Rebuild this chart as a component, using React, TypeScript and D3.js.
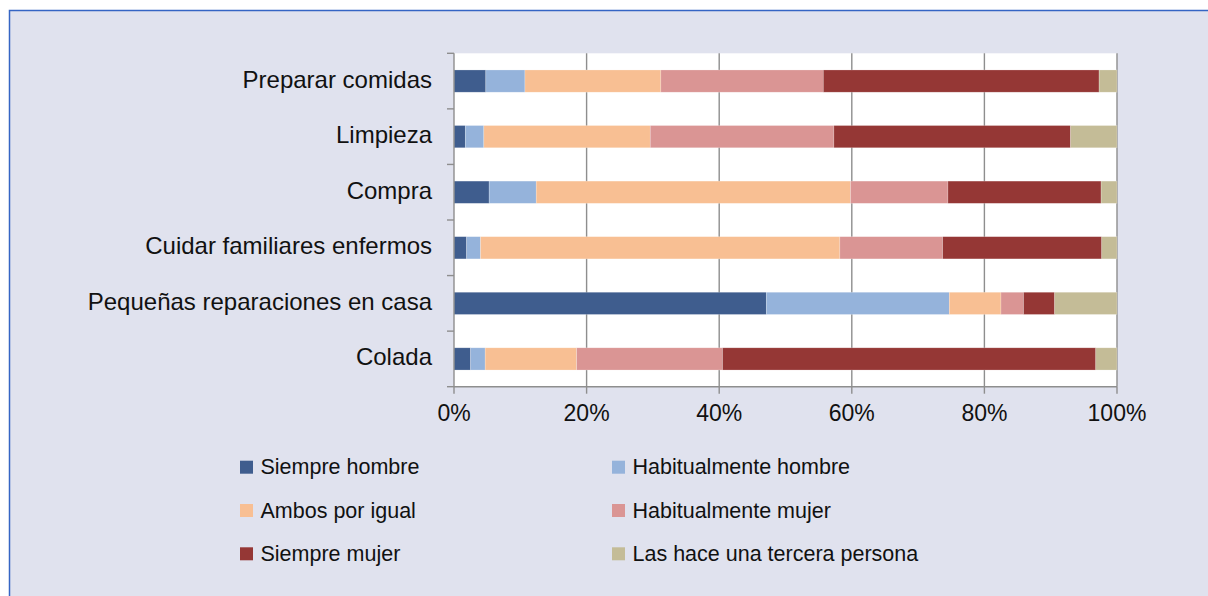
import React from "react";
import * as d3 from "d3";

const categories = [
  "Preparar comidas",
  "Limpieza",
  "Compra",
  "Cuidar familiares enfermos",
  "Pequeñas reparaciones en casa",
  "Colada",
];

const seriesNames = [
  "Siempre hombre",
  "Habitualmente hombre",
  "Ambos por igual",
  "Habitualmente mujer",
  "Siempre mujer",
  "Las hace una tercera persona",
];

const siempreHombre = [4.8, 1.7, 5.3, 1.9, 47.1, 2.5];
const habitualmenteHombre = [5.9, 2.8, 7.1, 2.1, 27.6, 2.2];
const ambosPorIgual = [20.5, 25.1, 47.4, 54.2, 7.8, 13.8];
const habitualmenteMujer = [24.5, 27.7, 14.7, 15.5, 3.4, 22.0];
const siempreMujer = [41.6, 35.7, 23.1, 24.0, 4.7, 56.3];
const terceraPersona = [2.7, 7.0, 2.4, 2.3, 9.4, 3.2];

const xTicks = [0, 20, 40, 60, 80, 100];

const colors = ["#3F5D8E", "#95B3DB", "#F8BF93", "#DA9594", "#953735", "#C4BC97"];

const seriesValues = [
  siempreHombre,
  habitualmenteHombre,
  ambosPorIgual,
  habitualmenteMujer,
  siempreMujer,
  terceraPersona,
];

export default function App() {
  const W = 1208;
  const H = 596;
  const left = 454;
  const right = 1117;
  const top = 53.3;
  const bottom = 386.7;

  const x = d3.scaleLinear().domain([0, 100]).range([left, right]);
  const y = d3
    .scaleBand<string>()
    .domain(categories)
    .range([top, bottom])
    .paddingInner(0.6)
    .paddingOuter(0.3);

  const rows = categories.map((c, i) => {
    const r: any = { cat: c };
    seriesNames.forEach((s, j) => (r[s] = seriesValues[j][i]));
    return r;
  });
  const stacked = d3.stack<any>().keys(seriesNames)(rows);

  const step = y.step();
  const catTicks = d3.range(categories.length + 1).map((i) => top + i * step);

  const font = "'Liberation Sans', Arial, Helvetica, sans-serif";
  const gridColor = "#8E8E8E";

  const legendPos = [
    { sx: 240, sy: 460.7 },
    { sx: 612, sy: 460.7 },
    { sx: 240, sy: 504 },
    { sx: 612, sy: 504 },
    { sx: 240, sy: 547.3 },
    { sx: 612, sy: 547.3 },
  ];

  return (
    <svg
      width={W}
      height={H}
      style={{ position: "absolute", left: 0, top: 0 }}
      fontFamily={font}
    >
      <rect x={0} y={0} width={W} height={H} fill="#ffffff" />
      <rect x={9.5} y={10.5} width={W + 20} height={H + 20} fill="#E0E2EE" stroke="#3565C4" strokeWidth={1.5} />
      <rect x={left} y={top} width={right - left} height={bottom - top} fill="#ffffff" />

      {xTicks.slice(1).map((t) => (
        <line key={t} x1={x(t)} x2={x(t)} y1={top} y2={bottom} stroke={gridColor} strokeWidth={1.4} />
      ))}

      {stacked.map((layer, j) => (
        <g key={layer.key} fill={colors[j]}>
          {layer.map((d: any, i: number) => (
            <rect
              key={i}
              x={x(d[0])}
              width={Math.max(0, x(d[1]) - x(d[0]))}
              y={y(categories[i])}
              height={y.bandwidth()}
              stroke="#ffffff"
              strokeOpacity={0.35}
              strokeWidth={0.6}
            />
          ))}
        </g>
      ))}

      <line x1={left} x2={left} y1={top} y2={bottom} stroke={gridColor} strokeWidth={1.4} />
      <line x1={left} x2={right} y1={bottom} y2={bottom} stroke={gridColor} strokeWidth={1.4} />
      {catTicks.map((t, i) => (
        <line key={i} x1={left - 7} x2={left} y1={t} y2={t} stroke={gridColor} strokeWidth={1.4} />
      ))}
      {xTicks.map((t) => (
        <line key={t} x1={x(t)} x2={x(t)} y1={bottom} y2={bottom + 7} stroke={gridColor} strokeWidth={1.4} />
      ))}

      {categories.map((c) => (
        <text
          key={c}
          x={432}
          y={(y(c) as number) + y.bandwidth() / 2 + 6.5}
          textAnchor="end"
          fontSize={24}
          fill="#111"
        >
          {c}
        </text>
      ))}

      {xTicks.map((t) => (
        <text key={t} x={x(t)} y={421} textAnchor="middle" fontSize={23} fill="#111">
          {t}%
        </text>
      ))}

      {seriesNames.map((s, j) => (
        <g key={s}>
          <rect x={legendPos[j].sx} y={legendPos[j].sy} width={13} height={13} fill={colors[j]} />
          <text x={legendPos[j].sx + 20.5} y={legendPos[j].sy + 13.5} fontSize={21.5} fill="#111">
            {s}
          </text>
        </g>
      ))}
    </svg>
  );
}
